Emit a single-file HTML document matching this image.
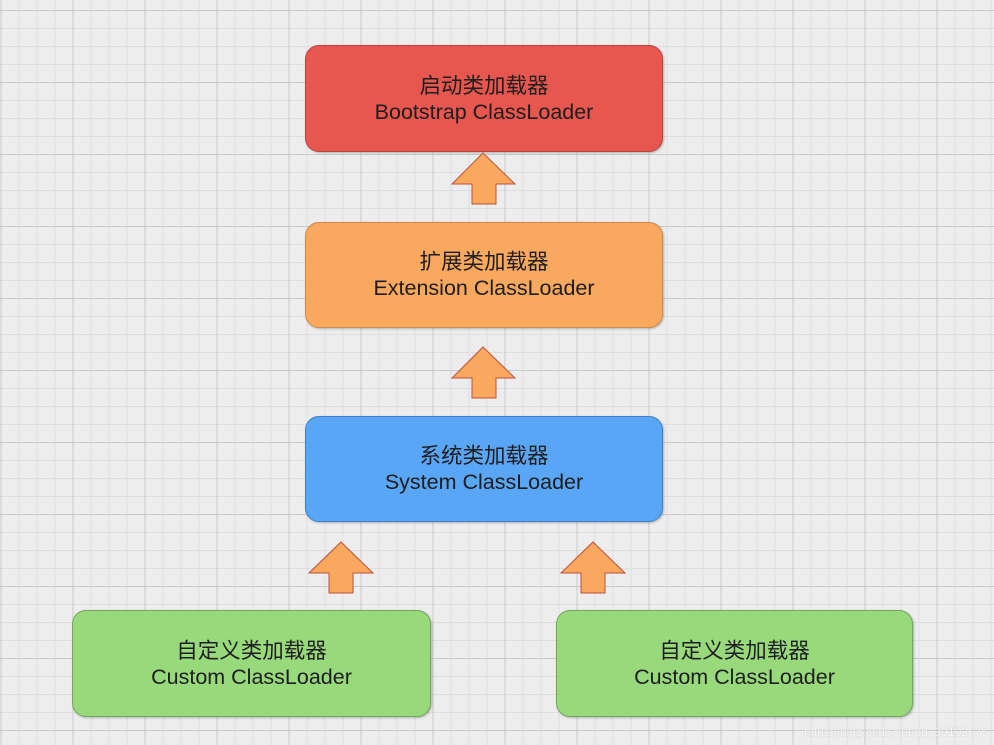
<!DOCTYPE html>
<html><head><meta charset="utf-8"><style>
html,body{margin:0;padding:0}
body{width:994px;height:745px;position:relative;overflow:hidden;background-color:#ededed;
background-image:
linear-gradient(#c9c9c9 1px,transparent 1px),
linear-gradient(90deg,#c9c9c9 1px,transparent 1px),
linear-gradient(#dedede 1px,transparent 1px),
linear-gradient(90deg,#dedede 1px,transparent 1px);
background-size:72px 72px,72px 72px,18px 18px,18px 18px;
background-position:0 10px,0.5px 0,0 10px,0.5px 0;
font-family:"Liberation Sans","Noto Sans CJK SC",sans-serif;}
.b{position:absolute;border-radius:14px;box-sizing:border-box;display:flex;flex-direction:column;justify-content:center;align-items:center;font-size:21.5px;line-height:26px;color:#1e1e1e;box-shadow:1px 1px 2px rgba(0,0,0,.25)}
svg{position:absolute;left:0;top:0}
.wm{position:absolute;right:6px;bottom:6px;font-size:12px;color:#fff;opacity:.8;text-shadow:0 0 1px #999}
</style></head><body>
<div class="b" style="left:305px;top:45px;width:358px;height:107px;background:#e8574f;border:1px solid #b8443c">启动类加载器<span>Bootstrap ClassLoader</span></div>
<div class="b" style="left:305px;top:222px;width:358px;height:106px;background:#f9a85e;border:1px solid #d08a48">扩展类加载器<span>Extension ClassLoader</span></div>
<div class="b" style="left:305px;top:416px;width:358px;height:106px;background:#5aa6f6;border:1px solid #3d7fc8">系统类加载器<span>System ClassLoader</span></div>
<div class="b" style="left:72px;top:610px;width:359px;height:107px;background:#98d97b;border:1px solid #6fa85a">自定义类加载器<span>Custom ClassLoader</span></div>
<div class="b" style="left:556px;top:610px;width:357px;height:107px;background:#98d97b;border:1px solid #6fa85a">自定义类加载器<span>Custom ClassLoader</span></div>
<svg width="994" height="745">
<g fill="#f9a85e" stroke="#c0503c" stroke-width="1">
<polygon points="483,153 515,184 496,184 496,204 472,204 472,184 452,184"/>
<polygon points="483,347 515,378 496,378 496,398 472,398 472,378 452,378"/>
<polygon points="341,542 373,573 353,573 353,593 329,593 329,573 309,573"/>
<polygon points="593,542 625,573 605,573 605,593 581,593 581,573 561,573"/>
</g></svg>
<div class="wm">https://blog.csdn.net/qq_39102575</div>
</body></html>
